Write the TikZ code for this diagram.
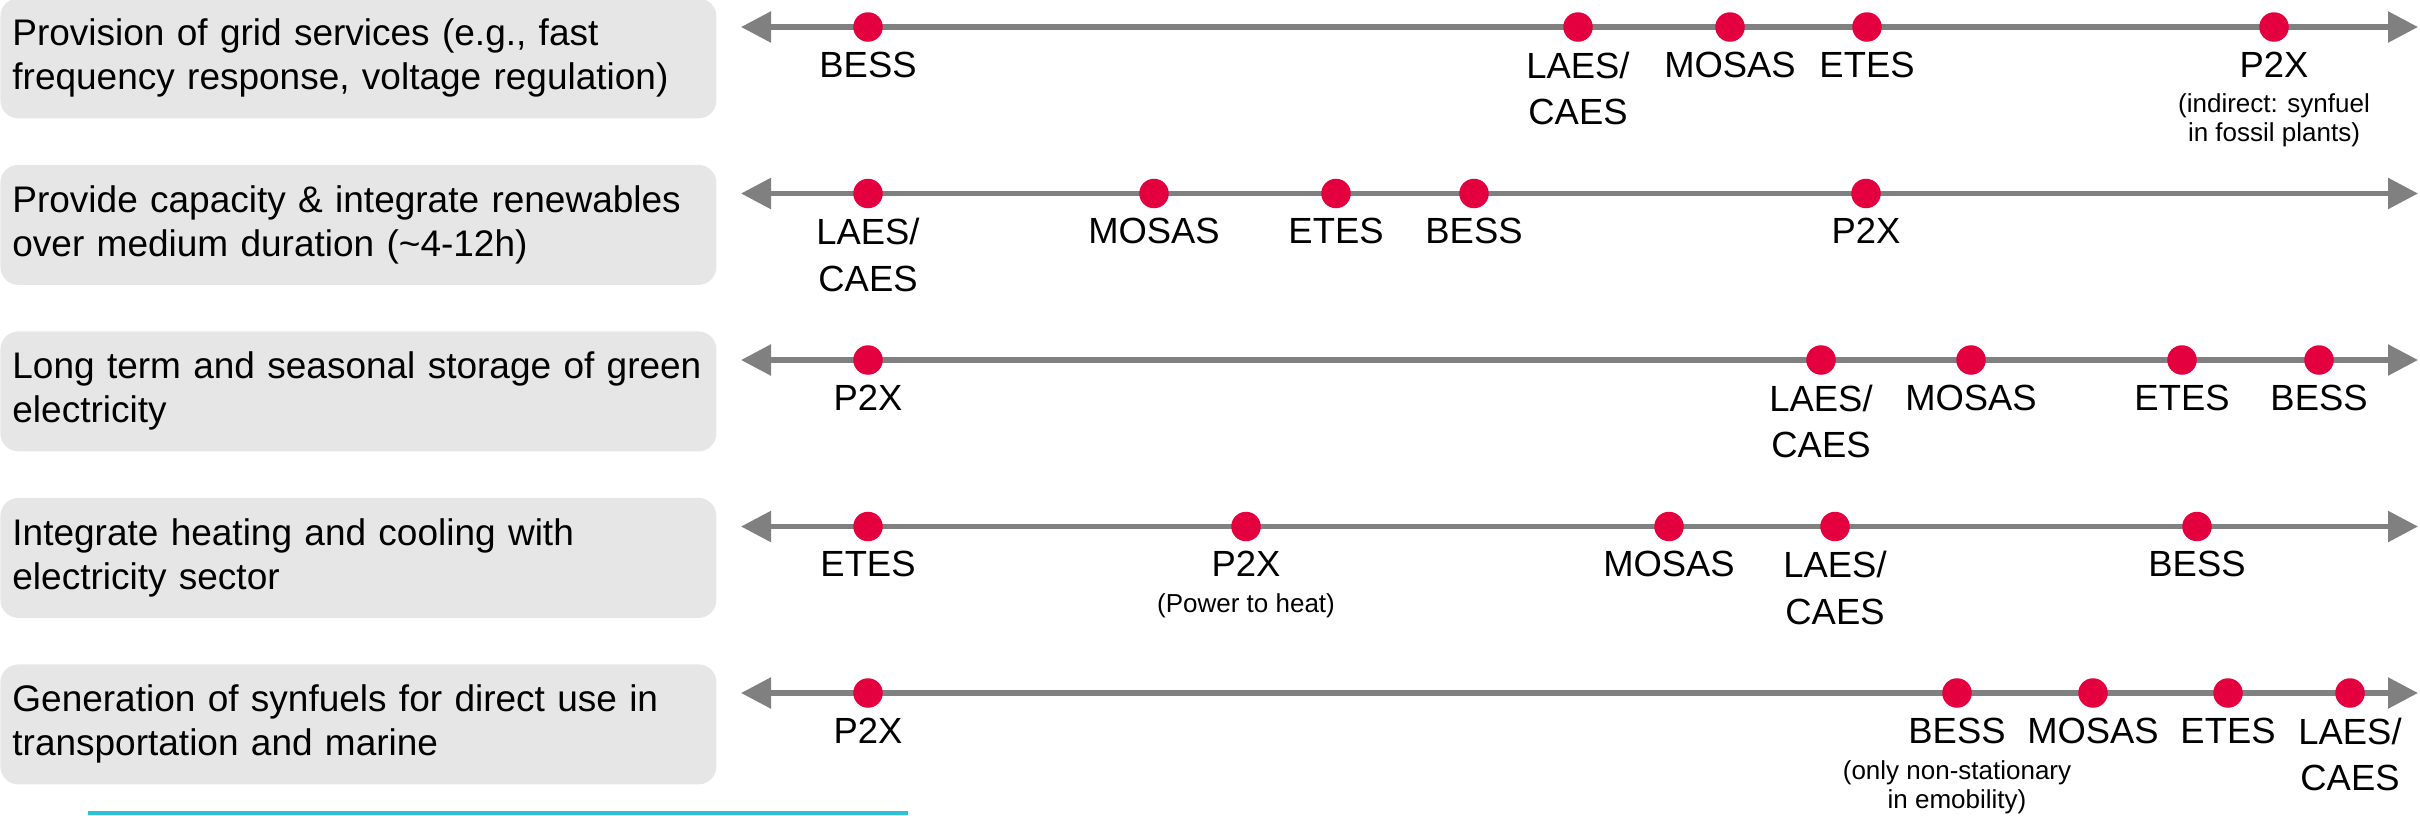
\documentclass[tikz,border=0pt]{standalone}
\usepackage{fontspec}
\setmainfont{Liberation Sans}
\usetikzlibrary{arrows.meta, positioning}
\definecolor{boxgray}{HTML}{E6E6E6}
\definecolor{axisgray}{HTML}{808080}
\definecolor{dotred}{HTML}{E4003F}
\definecolor{cyanline}{HTML}{2EBFD9}

\begin{document}
\begin{tikzpicture}[x=0.5pt, y=-0.5pt,
      rowbox/.style={rectangle, rounded corners=9pt, fill=boxgray, draw=none, anchor=north west,
                     minimum width=358pt, minimum height=60pt, text width=346pt, inner xsep=6pt,
                     align=left, font=\fontsize{18.5pt}{22pt}\selectfont},
      axis/.style={{Triangle[length=15pt, width=15pt]}-{Triangle[length=15pt, width=15pt]},
                   line width=2.75pt, draw=axisgray},
      dot/.style={circle, fill=dotred, draw=none, inner sep=0pt, minimum size=14.75pt},
      lab/.style={inner sep=0pt, align=center, font=\fontsize{18.2pt}{23.3pt}\selectfont},
      note/.style={inner sep=0pt, align=center, font=\fontsize{13pt}{14.5pt}\selectfont}]
    \useasboundingbox (0,0) rectangle (2420,815);

    % row boxes
    \node[rowbox] (row1) at (0,-2) {Provision of grid services (e.g., fast\\frequency response, voltage regulation)};
    \node[rowbox] (row2) at (0,164.5) {Provide capacity \& integrate renewables\\over medium duration (\textasciitilde4-12h)};
    \node[rowbox] (row3) at (0,331) {Long term and seasonal storage of green\\electricity};
    \node[rowbox] (row4) at (0,497.5) {Integrate heating and cooling with\\electricity sector};
    \node[rowbox] (row5) at (0,664) {Generation of synfuels for direct use in\\transportation and marine};

    % axes
    \coordinate (w1) at (741,27);    \coordinate (e1) at (2418,27);
    \coordinate (w2) at (741,193.5); \coordinate (e2) at (2418,193.5);
    \coordinate (w3) at (741,360);   \coordinate (e3) at (2418,360);
    \coordinate (w4) at (741,526.5); \coordinate (e4) at (2418,526.5);
    \coordinate (w5) at (741,693);   \coordinate (e5) at (2418,693);
    \draw[axis] (w1)--(e1);
    \draw[axis] (w2)--(e2);
    \draw[axis] (w3)--(e3);
    \draw[axis] (w4)--(e4);
    \draw[axis] (w5)--(e5);

    % row 1
    \node[dot] (bess1) at (868,27) {};
    \node[dot] (laes1) at (1578,27) {};
    \node[dot] (mosas1) at (1730,27) {};
    \node[dot] (etes1) at (1867,27) {};
    \node[dot] (ptx1) at (2274,27) {};
    \node[lab, below=4.6pt of bess1] (bess1l) {BESS};
    \node[lab, below=4.6pt of laes1] (laes1l) {LAES/\\CAES};
    \node[lab, below=4.6pt of mosas1] (mosas1l) {MOSAS};
    \node[lab, below=4.6pt of etes1] (etes1l) {ETES};
    \node[lab, below=4.6pt of ptx1] (ptx1l) {P2X};
    \node[note, below=8pt of ptx1l] (ptx1n) {(indirect: synfuel\\in fossil plants)};

    % row 2
    \node[dot] (laes2) at (868,193.5) {};
    \node[dot] (mosas2) at (1154,193.5) {};
    \node[dot] (etes2) at (1336,193.5) {};
    \node[dot] (bess2) at (1474,193.5) {};
    \node[dot] (ptx2) at (1866,193.5) {};
    \node[lab, below=4.6pt of laes2] (laes2l) {LAES/\\CAES};
    \node[lab, below=4.6pt of mosas2] (mosas2l) {MOSAS};
    \node[lab, below=4.6pt of etes2] (etes2l) {ETES};
    \node[lab, below=4.6pt of bess2] (bess2l) {BESS};
    \node[lab, below=4.6pt of ptx2] (ptx2l) {P2X};

    % row 3
    \node[dot] (ptx3) at (868,360) {};
    \node[dot] (laes3) at (1821,360) {};
    \node[dot] (mosas3) at (1971,360) {};
    \node[dot] (etes3) at (2182,360) {};
    \node[dot] (bess3) at (2319,360) {};
    \node[lab, below=4.6pt of ptx3] (ptx3l) {P2X};
    \node[lab, below=4.6pt of laes3] (laes3l) {LAES/\\CAES};
    \node[lab, below=4.6pt of mosas3] (mosas3l) {MOSAS};
    \node[lab, below=4.6pt of etes3] (etes3l) {ETES};
    \node[lab, below=4.6pt of bess3] (bess3l) {BESS};

    % row 4
    \node[dot] (etes4) at (868,526.5) {};
    \node[dot] (ptx4) at (1246,526.5) {};
    \node[dot] (mosas4) at (1669,526.5) {};
    \node[dot] (laes4) at (1835,526.5) {};
    \node[dot] (bess4) at (2197,526.5) {};
    \node[lab, below=4.6pt of etes4] (etes4l) {ETES};
    \node[lab, below=4.6pt of ptx4] (ptx4l) {P2X};
    \node[note, below=8pt of ptx4l] (ptx4n) {(Power to heat)};
    \node[lab, below=4.6pt of mosas4] (mosas4l) {MOSAS};
    \node[lab, below=4.6pt of laes4] (laes4l) {LAES/\\CAES};
    \node[lab, below=4.6pt of bess4] (bess4l) {BESS};

    % row 5
    \node[dot] (ptx5) at (868,693) {};
    \node[dot] (bess5) at (1957,693) {};
    \node[dot] (mosas5) at (2093,693) {};
    \node[dot] (etes5) at (2228,693) {};
    \node[dot] (laes5) at (2350,693) {};
    \node[lab, below=4.6pt of ptx5] (ptx5l) {P2X};
    \node[lab, below=4.6pt of bess5] (bess5l) {BESS};
    \node[note, below=8pt of bess5l] (bess5n) {(only non-stationary\\in emobility)};
    \node[lab, below=4.6pt of mosas5] (mosas5l) {MOSAS};
    \node[lab, below=4.6pt of etes5] (etes5l) {ETES};
    \node[lab, below=4.6pt of laes5] (laes5l) {LAES/\\CAES};

    % cut-off bar at the bottom
    \fill[cyanline] (88,811) rectangle (908,815);
  \end{tikzpicture}
\end{document}
